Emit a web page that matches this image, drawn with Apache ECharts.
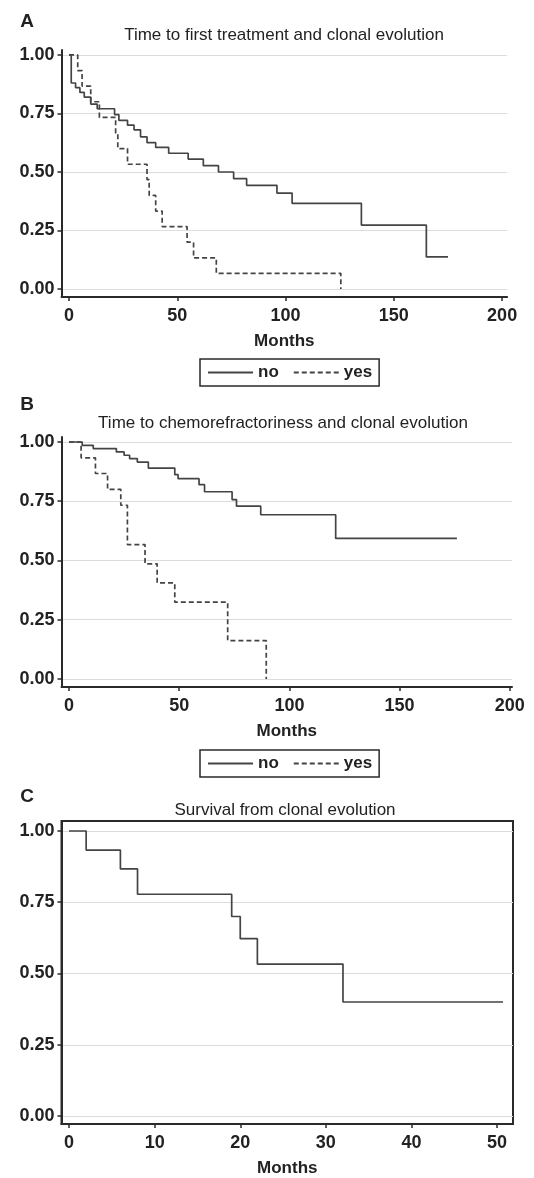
<!DOCTYPE html>
<html><head><meta charset="utf-8">
<script src="https://cdn.jsdelivr.net/npm/echarts@6/dist/echarts.min.js"></script>
<style>html,body{margin:0;padding:0;background:#fff}#c{width:534px;height:1178px}</style>
</head><body><div id="c"></div>
<script>
// ---- data (Kaplan-Meier step points: months, survival proportion) ----
const panelTitles = ['Time to first treatment and clonal evolution', 'Time to chemorefractoriness and clonal evolution', 'Survival from clonal evolution'];
const panelLetters = ['A', 'B', 'C'];
const groupNames = ['no', 'yes'];
const xAxisTitle = 'Months';
const yTicks = [0, 0.25, 0.5, 0.75, 1];
const xTicksAB = [0, 50, 100, 150, 200];
const xTicksC = [0, 10, 20, 30, 40, 50];

// Panel A: time to first treatment
const monthsA_no = [0, 1, 3, 5, 7, 10, 13, 21, 23, 27, 30, 33, 36, 40, 46, 55, 62, 69, 76, 82, 96, 103, 135, 165, 175];
const survA_no   = [1, 0.88, 0.86, 0.84, 0.82, 0.79, 0.77, 0.745, 0.72, 0.70, 0.68, 0.65, 0.625, 0.605, 0.58, 0.555, 0.527, 0.50, 0.472, 0.443, 0.41, 0.366, 0.273, 0.137, 0.137];
const monthsA_yes = [0, 4, 6, 10, 14, 21.5, 22.5, 27, 36, 37, 40, 43, 54.5, 57.5, 68, 125.5];
const survA_yes   = [1, 0.933, 0.867, 0.8, 0.733, 0.667, 0.6, 0.533, 0.467, 0.4, 0.333, 0.267, 0.2, 0.133, 0.067, 0];

// Panel B: time to chemorefractoriness
const monthsB_no = [0, 6, 11, 21.5, 25, 27.5, 31, 36, 48, 49.5, 59, 61.5, 74, 76, 87, 121, 176];
const survB_no   = [1, 0.986, 0.972, 0.958, 0.944, 0.93, 0.915, 0.89, 0.862, 0.845, 0.82, 0.79, 0.757, 0.729, 0.693, 0.593, 0.593];
const monthsB_yes = [0, 5.5, 12, 17.5, 23.5, 26.5, 34.5, 40, 48, 72, 89.5];
const survB_yes   = [1, 0.933, 0.867, 0.8, 0.733, 0.567, 0.486, 0.405, 0.324, 0.162, 0];

// Panel C: survival from clonal evolution
const monthsC = [0, 2, 6, 8, 19, 20, 22, 32, 50.7];
const survC   = [1, 0.933, 0.867, 0.778, 0.70, 0.622, 0.533, 0.40, 0.40];

// ---- chart ----
const pairs = (xs, ys) => xs.map((x, i) => [x, ys[i]]);
const FONT = 'Liberation Sans, Arial, sans-serif';
const INK = '#2a2a2a';
const CURVE = '#444';

const grids = [
  { left: 61.5, top: 50, width: 445.6, height: 247 },
  { left: 61.5, top: 437, width: 450.5, height: 250 },
  { left: 61.5, top: 821, width: 451.5, height: 303, show: true, borderColor: INK, borderWidth: 2 }
].map(g => Object.assign({ containLabel: false, outerBoundsMode: 'none' }, g));

function makeX(gi, min, max, ticks) {
  return {
    type: 'value', gridIndex: gi, min: min, max: max,
    name: xAxisTitle, nameLocation: 'middle', nameGap: 36,
    nameTextStyle: { fontSize: 17, fontWeight: 'bold', color: '#222', fontFamily: FONT },
    axisLine: { show: true, onZero: false, lineStyle: { color: INK, width: 2 } },
    axisTick: { show: true, length: 4, inside: false, customValues: ticks, lineStyle: { color: INK, width: 1.5 } },
    axisLabel: { customValues: ticks, margin: 10, fontSize: 18, fontWeight: 'bold', color: '#222', fontFamily: FONT },
    splitLine: { show: false }
  };
}
function makeY(gi, min, max) {
  return {
    type: 'value', gridIndex: gi, min: min, max: max,
    axisLine: { show: true, onZero: false, lineStyle: { color: INK, width: 2 } },
    axisTick: { show: true, length: 4, customValues: yTicks, lineStyle: { color: INK, width: 1.5 } },
    axisLabel: { customValues: yTicks, margin: 7, fontSize: 18, fontWeight: 'bold', color: '#222', fontFamily: FONT,
      formatter: v => Number(v).toFixed(2) },
    splitLine: { show: true, lineStyle: { color: '#dcdcdc', width: 1 } }
  };
}

function km(name, gi, data, dashed) {
  return {
    type: 'line', name: name, xAxisIndex: gi, yAxisIndex: gi, data: data,
    step: 'end', symbol: 'none', showSymbol: false, animation: false, silent: true,
    lineStyle: { color: CURVE, width: 1.7, type: dashed ? [5, 3] : 'solid' },
    itemStyle: { color: CURVE }
  };
}

function legendAt(top) {
  return {
    data: groupNames, top: top, left: 200, orient: 'horizontal',
    itemWidth: 45, itemHeight: 12, itemGap: 14, padding: [5, 7],
    borderColor: INK, borderWidth: 1.5, selectedMode: false,
    itemStyle: { opacity: 0 },
    textStyle: { fontSize: 17, color: '#222', fontFamily: FONT, fontWeight: 'bold' }
  };
}

function txt(x, y, text, size, weight) {
  return { type: 'text', x: x, y: y, silent: true,
    style: { text: text, fontSize: size, fontWeight: weight, fontFamily: FONT, fill: '#222', align: 'center', verticalAlign: 'middle' } };
}

const option = {
  backgroundColor: '#fff',
  animation: false,
  grid: grids,
  xAxis: [makeX(0, -3.5, 202.3, xTicksAB), makeX(1, -3.4, 201, xTicksAB), makeX(2, -0.88, 51.86, xTicksC)],
  yAxis: [makeY(0, -0.034, 1.021), makeY(1, -0.034, 1.021), makeY(2, -0.028, 1.035)],
  legend: [legendAt(359), legendAt(750)],
  series: [
    km(groupNames[0], 0, pairs(monthsA_no, survA_no), false),
    km(groupNames[1], 0, pairs(monthsA_yes, survA_yes), true),
    km(groupNames[0], 1, pairs(monthsB_no, survB_no), false),
    km(groupNames[1], 1, pairs(monthsB_yes, survB_yes), true),
    km('survival', 2, pairs(monthsC, survC), false)
  ],
  graphic: [
    txt(27, 22, panelLetters[0], 19, 'bold'),
    txt(284, 35, panelTitles[0], 17, 'normal'),
    txt(27, 405, panelLetters[1], 19, 'bold'),
    txt(283, 423, panelTitles[1], 17, 'normal'),
    txt(27, 797, panelLetters[2], 19, 'bold'),
    txt(285, 810, panelTitles[2], 17, 'normal')
  ]
};

const chart = echarts.init(document.getElementById('c'), null, { renderer: 'canvas', width: 534, height: 1178 });
chart.setOption(option);
</script>
</body></html>
